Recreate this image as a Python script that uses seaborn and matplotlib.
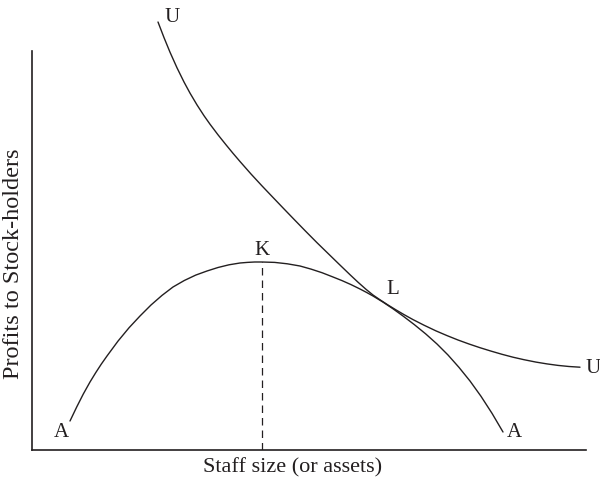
import matplotlib
matplotlib.use("Agg")
import matplotlib.pyplot as plt
import seaborn as sns
import pandas as pd

# Profit curve A–K–L–A (staff size vs. profits to stock-holders)
profit_x = [38, 44.7, 51.3, 58, 63.7, 69.3, 75, 86, 97, 108, 119, 130, 141,
            152.3, 163.7, 175, 186, 197, 208, 215.3, 222.7, 230, 242.7, 255.3,
            268, 279, 290, 301, 310, 319, 328, 334.5, 341, 351, 361, 371,
            382.3, 393.7, 405, 416, 427, 438, 449, 460, 471]
profit_y = [29, 43.0, 56.0, 68, 77.3, 85.9, 94, 108.9, 122.2, 134, 145.0,
            154.6, 163, 169.5, 174.9, 179, 182.5, 185.2, 187, 187.6, 188.0,
            188, 187.6, 186.2, 184, 180.9, 177.3, 173, 169.4, 165.4, 161,
            157.6, 154, 147.9, 141.2, 134, 125.4, 116.1, 106, 95.0, 82.6, 69,
            53.7, 36.7, 18]

# Indifference curve U–U, tangent to the profit curve at L
indiff_x = [126, 132, 138, 145, 152, 158, 165, 172, 178, 186, 194, 201, 208,
            219, 230, 240, 251, 262, 273, 285, 296, 307, 318, 326, 334, 341,
            348, 356, 364, 372, 381, 392, 404, 415, 426, 437, 448, 459, 470,
            481, 492, 504, 515, 526, 537, 548]
indiff_y = [428, 412.4, 397.8, 382.2, 368.0, 356.9, 345.1, 334.3, 325.8,
            315.2, 305.2, 296.7, 288.5, 276.0, 264.1, 253.6, 242.1, 230.7,
            219.4, 207.3, 196.6, 185.9, 175.3, 167.8, 160.7, 155.0, 150.2,
            145.0, 140.1, 135.4, 130.4, 124.8, 119.1, 114.4, 110.0, 106.0,
            102.3, 98.9, 95.7, 92.8, 90.3, 87.9, 86.1, 84.6, 83.5, 82.8]

# Point labels
label_text = ["U", "U", "K", "L", "A", "A"]
label_x = [140, 554, 230, 361, 29, 482]
label_y = [434, 82, 200, 161, 18, 18]
label_ha = ["center", "left", "center", "center", "center", "center"]

peak_x = 230
peak_y = 188

sns.set_theme(style="white")
plt.rcParams["font.family"] = ["Liberation Serif", "DejaVu Serif"]

ink = "#231f20"

fig = plt.figure(figsize=(6, 4.81), dpi=100)
ax = fig.add_axes([32 / 600, 30 / 481, 554 / 600, 441 / 481])

profit = pd.DataFrame({"x": profit_x, "y": profit_y})
indiff = pd.DataFrame({"x": indiff_x, "y": indiff_y})

sns.lineplot(data=profit, x="x", y="y", ax=ax, color=ink, lw=1.0,
             estimator=None, sort=False)
sns.lineplot(data=indiff, x="x", y="y", ax=ax, color=ink, lw=1.0,
             estimator=None, sort=False)

# dashed drop line from the profit maximum K to the axis
ax.plot([peak_x, peak_x], [0, peak_y], color=ink, lw=0.9,
        linestyle=(0, (6, 4)))

for t, x, y, ha in zip(label_text, label_x, label_y, label_ha):
    ax.text(x, y, t, ha=ha, va="center", fontsize=15, color=ink)

ax.set_xlim(0, 554)
ax.set_ylim(0, 441)
ax.set_xticks([])
ax.set_yticks([])

for side in ("top", "right"):
    ax.spines[side].set_visible(False)
for side in ("left", "bottom"):
    ax.spines[side].set_color(ink)
    ax.spines[side].set_linewidth(1.2)
ax.spines["left"].set_bounds(0, 399)
ax.spines["bottom"].set_bounds(0, 554)

ax.set_xlabel("Staff size (or assets)", fontsize=16, color=ink)
ax.set_ylabel("Profits to Stock-holders", fontsize=17.5, color=ink)
ax.xaxis.set_label_coords(261 / 554, -17 / 441)
ax.xaxis.label.set_va("center")
ax.yaxis.set_label_coords(-18 / 554, 187 / 441)
ax.yaxis.label.set_va("center")

ax.set_facecolor("white")
fig.patch.set_facecolor("white")
fig.savefig("out.png", dpi=100, facecolor="white")
